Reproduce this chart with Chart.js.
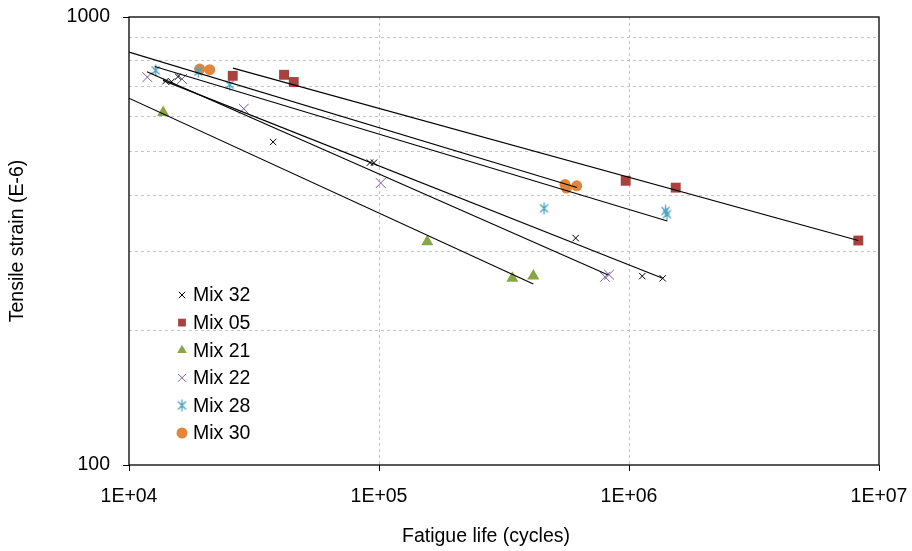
<!DOCTYPE html>
<html>
<head>
<meta charset="utf-8">
<script src="https://cdn.jsdelivr.net/npm/chart.js@4.4.1/dist/chart.umd.min.js"></script>
<style>
  html, body { margin: 0; padding: 0; background: #fff; }
  #wrap { width: 912px; height: 551px; }
</style>
</head>
<body>
<div id="wrap"><canvas id="fatigueChart" width="912" height="551"></canvas></div>
<script>
// Fatigue life (cycles) vs tensile strain (E-6)
const life32 = [14000, 14800, 15700, 37700, 92000, 95500, 612000, 1130000, 1364000];
const strain32 = [719, 717, 736, 526, 473, 473, 321, 264, 261];
const life05 = [26000, 41700, 45600, 970000, 1538000, 8264000];
const strain05 = [739, 743, 716, 431, 416, 317];
const life21 = [13700, 156000, 341500, 414300];
const strain21 = [612, 315, 261, 264];
const life22 = [11840, 16300, 28760, 101600, 801700, 831800];
const strain22 = [734, 727, 624, 426, 263, 266];
const life28 = [12790, 18930, 25280, 457100, 1400000, 1419000];
const strain28 = [760, 755, 706, 374, 369, 363];
const life30 = [19180, 21030, 554600, 562300, 617900];
const strain30 = [765, 763, 423, 415, 420];

// Power trend lines: start and end as drawn
const trendLife32 = [13680, 1364000];
const trendStrain32 = [722, 261];
const trendLife05 = [26060, 8264000];
const trendStrain05 = [769, 317];
const trendLife21 = [10000, 414300];
const trendStrain21 = [659, 253.4];
const trendLife22 = [11800, 826500];
const trendStrain22 = [755, 265.5];
const trendLife28 = [12670, 1423000];
const trendStrain28 = [775, 350.5];
const trendLife30 = [10000, 619400];
const trendStrain30 = [835, 416.4];

const lifeTicks = [1e4, 1e5, 1e6, 1e7];
const strainTicks = [100, 200, 300, 400, 500, 600, 700, 800, 900, 1000];

const FONT = "'Liberation Sans', Arial, sans-serif";

function toPoints(xs, ys) {
    return xs.map((x, i) => ({ x: x, y: ys[i] }));
}

// Excel-like asterisk marker (x with a vertical bar)
function makeAsterisk(color) {
    const c = document.createElement('canvas');
    c.width = 13;
    c.height = 13;
    const g = c.getContext('2d');
    g.strokeStyle = color;
    g.lineWidth = 1.3;
    g.beginPath();
    g.moveTo(2.5, 2.5); g.lineTo(10.5, 10.5);
    g.moveTo(10.5, 2.5); g.lineTo(2.5, 10.5);
    g.moveTo(6.5, 0.5); g.lineTo(6.5, 12.5);
    g.stroke();
    return c;
}
const asterisk = makeAsterisk('#4aa3bd');

function trend(xs, ys) {
    return {
        type: 'line',
        label: '',
        data: toPoints(xs, ys),
        borderColor: '#000',
        borderWidth: 1.1,
        pointRadius: 0,
        pointHoverRadius: 0,
        fill: false,
        isTrend: true
    };
}

function marks(label, xs, ys, style, color, radius, width) {
    return {
        type: 'scatter',
        label: label,
        data: toPoints(xs, ys),
        pointStyle: style,
        pointRadius: radius,
        pointHoverRadius: radius,
        pointBorderWidth: width,
        pointBackgroundColor: color,
        pointBorderColor: color,
        backgroundColor: color,
        borderColor: color
    };
}

const datasets = [
    trend(trendLife32, trendStrain32),
    trend(trendLife05, trendStrain05),
    trend(trendLife21, trendStrain21),
    trend(trendLife22, trendStrain22),
    trend(trendLife28, trendStrain28),
    trend(trendLife30, trendStrain30),
    marks('Mix 32', life32, strain32, 'crossRot', '#000000', 4.5, 1),
    marks('Mix 05', life05, strain05, 'rect', '#a9423f', 7, 0),
    marks('Mix 21', life21, strain21, 'triangle', '#87a64a', 7, 0),
    marks('Mix 22', life22, strain22, 'crossRot', '#7b5f9e', 7, 1),
    marks('Mix 28', life28, strain28, asterisk, '#4aa3bd', 6, 1),
    marks('Mix 30', life30, strain30, 'circle', '#e2863b', 5.5, 0)
];

// Frame around the plot area
const frame = {
    id: 'frame',
    beforeDatasetsDraw(chart) {
        const { ctx, chartArea: a } = chart;
        ctx.save();
        ctx.strokeStyle = '#000';
        ctx.lineWidth = 1.3;
        ctx.strokeRect(a.left, a.top, a.right - a.left, a.bottom - a.top);
        ctx.restore();
    }
};

// Axis titles and the legend inside the plot
const labels = {
    id: 'labels',
    afterDraw(chart) {
        const ctx = chart.ctx;
        ctx.save();
        ctx.fillStyle = '#000';
        ctx.font = '19.5px ' + FONT;
        ctx.textAlign = 'center';
        ctx.textBaseline = 'middle';
        ctx.fillText('Fatigue life (cycles)', 486, 537);
        ctx.translate(18, 241);
        ctx.rotate(-Math.PI / 2);
        ctx.fillText('Tensile strain (E-6)', 0, 0);
        ctx.restore();

        const rows = chart.data.datasets.filter(d => !d.isTrend);
        const draw = Chart.helpers && Chart.helpers.drawPoint;
        ctx.save();
        ctx.font = '19.5px ' + FONT;
        ctx.textAlign = 'left';
        ctx.textBaseline = 'middle';
        rows.forEach((d, i) => {
            const y = 295 + i * 27.6;
            const r = Math.min(d.pointRadius, 5.5);
            ctx.fillStyle = d.pointBackgroundColor;
            ctx.strokeStyle = d.pointBorderColor;
            ctx.lineWidth = d.pointBorderWidth || 1;
            if (draw) {
                draw(ctx, { pointStyle: d.pointStyle, rotation: 0, radius: r, borderWidth: d.pointBorderWidth }, 182, y);
            }
            ctx.fillStyle = '#000';
            ctx.fillText(d.label, 193, y + 1);
        });
        ctx.restore();
    }
};

const isEnd = v => v === 100 || v === 1000;

new Chart(document.getElementById('fatigueChart'), {
    data: { datasets: datasets },
    plugins: [frame, labels],
    options: {
        responsive: false,
        animation: false,
        layout: { padding: { left: 0, top: 17, right: 33, bottom: 0 } },
        plugins: {
            legend: { display: false },
            tooltip: { enabled: false }
        },
        scales: {
            x: {
                type: 'logarithmic',
                min: 1e4,
                max: 1e7,
                afterBuildTicks(scale) {
                    scale.ticks = lifeTicks.map(v => ({ value: v, major: true }));
                },
                afterFit(scale) {
                    scale.height = 86;
                    scale.paddingLeft = 0;
                    scale.paddingRight = 0;
                },
                grid: {
                    color: c => (c.tick && (c.tick.value === 1e5 || c.tick.value === 1e6)) ? '#c4c4c4' : 'rgba(0,0,0,0)',
                    tickColor: '#000',
                    tickLength: 6,
                    lineWidth: 1
                },
                border: { display: false, dash: [3, 3] },
                ticks: {
                    color: '#000',
                    padding: 14,
                    maxRotation: 0,
                    autoSkip: false,
                    font: { family: FONT, size: 19.5 },
                    callback: v => '1E+' + String(Math.round(Math.log10(v))).padStart(2, '0')
                }
            },
            y: {
                type: 'logarithmic',
                min: 100,
                max: 1000,
                afterBuildTicks(scale) {
                    scale.ticks = strainTicks.map(v => ({ value: v, major: isEnd(v) }));
                },
                afterFit(scale) {
                    scale.width = 129;
                    scale.paddingTop = 0;
                    scale.paddingBottom = 0;
                },
                grid: {
                    color: c => (c.tick && isEnd(c.tick.value)) ? 'rgba(0,0,0,0)' : '#c4c4c4',
                    tickColor: c => (c.tick && isEnd(c.tick.value)) ? '#000' : 'rgba(0,0,0,0)',
                    tickLength: 6,
                    lineWidth: 1
                },
                border: { display: false, dash: [3, 3] },
                ticks: {
                    color: '#000',
                    padding: 13,
                    autoSkip: false,
                    font: { family: FONT, size: 19.5 },
                    callback: v => isEnd(v) ? String(v) : ''
                }
            }
        }
    }
});
</script>
</body>
</html>
